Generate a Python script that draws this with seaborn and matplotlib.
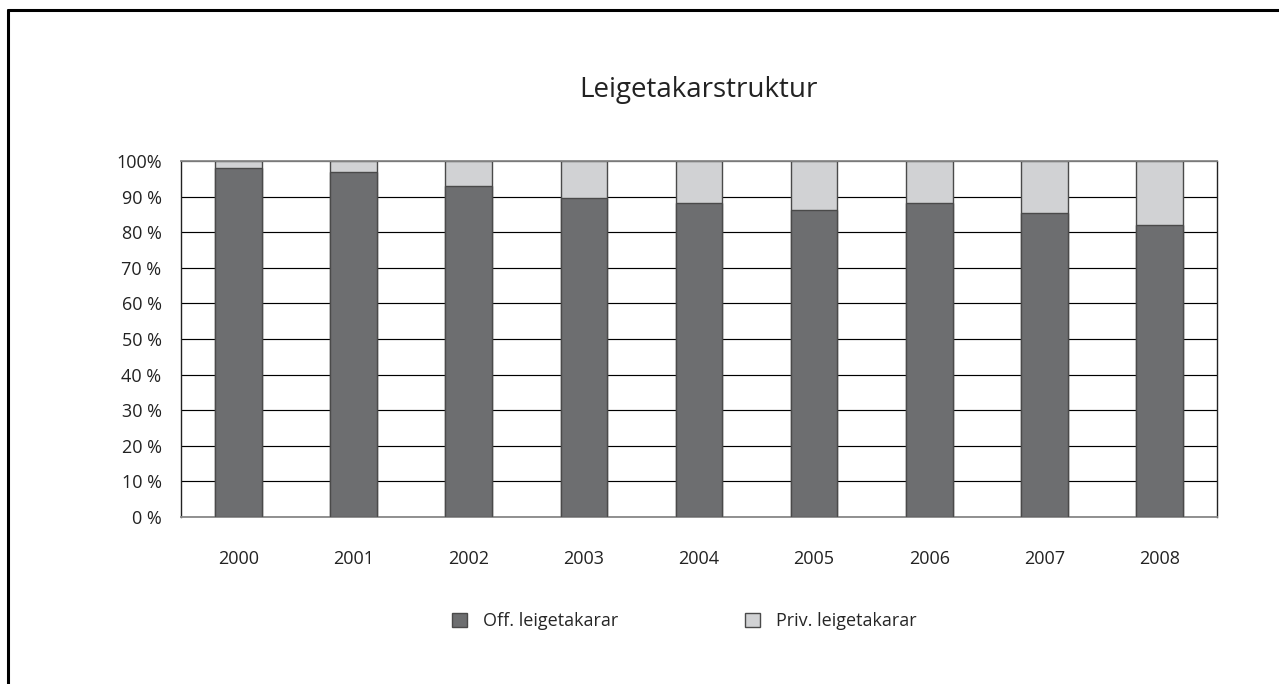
import matplotlib
matplotlib.use('Agg')
import matplotlib.pyplot as plt
import numpy as np
import pandas as pd
import seaborn as sns
from matplotlib.patches import Patch
from matplotlib.lines import Line2D

years = ['2000', '2001', '2002', '2003', '2004', '2005', '2006', '2007', '2008']
off_share = [97.9, 97.0, 93.0, 89.5, 88.1, 86.2, 88.1, 85.3, 81.9]
priv_share = [2.1, 3.0, 7.0, 10.5, 11.9, 13.8, 11.9, 14.7, 18.1]
y_labels = ['0 %', '10 %', '20 %', '30 %', '40 %', '50 %', '60 %', '70 %', '80 %', '90 %', '100%']
series_names = ['Off. leigetakarar', 'Priv. leigetakarar']

dark = '#6d6e70'
light = '#d1d2d4'
edge = '#4a4a4a'

df = pd.DataFrame({'year': years, 'off': off_share, 'priv': priv_share})
df['total'] = df['off'] + df['priv']

sns.set_style('white')
plt.rcParams['font.family'] = ['Open Sans', 'DejaVu Sans']

fig = plt.figure(figsize=(12.79, 6.84), dpi=100)
ax = fig.add_axes([0.1415, 0.2442, 0.81, 0.5204])

# gridlines behind bars
ax.set_axisbelow(True)
ax.yaxis.grid(True, color='black', linewidth=0.85)

sns.barplot(data=df, x='year', y='total', color=light, width=0.405,
            edgecolor=edge, linewidth=1.0, saturation=1, ax=ax, zorder=2)
sns.barplot(data=df, x='year', y='off', color=dark, width=0.405,
            edgecolor=edge, linewidth=1.0, saturation=1, ax=ax, zorder=3)

ax.set_xlim(-0.5, len(years) - 0.5)
ax.set_ylim(0, 100)
ax.set_yticks(np.arange(0, 101, 10))
ax.set_yticklabels(y_labels, fontsize=13, color='#222222')
ax.set_xticks(range(len(years)))
ax.set_xticklabels(years, fontsize=13, color='#222222')
ax.tick_params(axis='x', which='major', length=0, pad=24)
ax.set_xticks(np.arange(-0.5, len(years), 1), minor=True)
ax.tick_params(axis='x', which='minor', length=8, width=1, color='#333333', direction='out')
ax.tick_params(axis='y', length=8, width=1, color='#333333', direction='out', pad=6)
ax.set_xlabel('')
ax.set_ylabel('')

for side in ['top', 'bottom']:
    ax.spines[side].set_color('#888888')
    ax.spines[side].set_linewidth(1.3)
for side in ['left', 'right']:
    ax.spines[side].set_color('#222222')
    ax.spines[side].set_linewidth(1.0)
    ax.spines[side].set_visible(True)

fig.text(0.546, 0.869, 'Leigetakarstruktur', ha='center', va='center',
         fontsize=20, color='#222222')

handles = [Patch(facecolor=dark, edgecolor=edge, label=series_names[0]),
           Patch(facecolor=light, edgecolor=edge, label=series_names[1])]
fig.legend(handles=handles, loc='center', bbox_to_anchor=(0.535, 0.092), ncol=2,
           frameon=False, fontsize=13, handlelength=0.85, handleheight=0.85,
           columnspacing=7.0, handletextpad=0.9)

# cropped outer frame
fig.add_artist(Line2D([0.0066, 1.0], [0.9854, 0.9854], color='black', linewidth=2.2,
                      transform=fig.transFigure))
fig.add_artist(Line2D([0.0066, 0.0066], [0.0, 0.9854], color='black', linewidth=2.2,
                      transform=fig.transFigure))

fig.savefig('out.png', dpi=100, facecolor='white')
